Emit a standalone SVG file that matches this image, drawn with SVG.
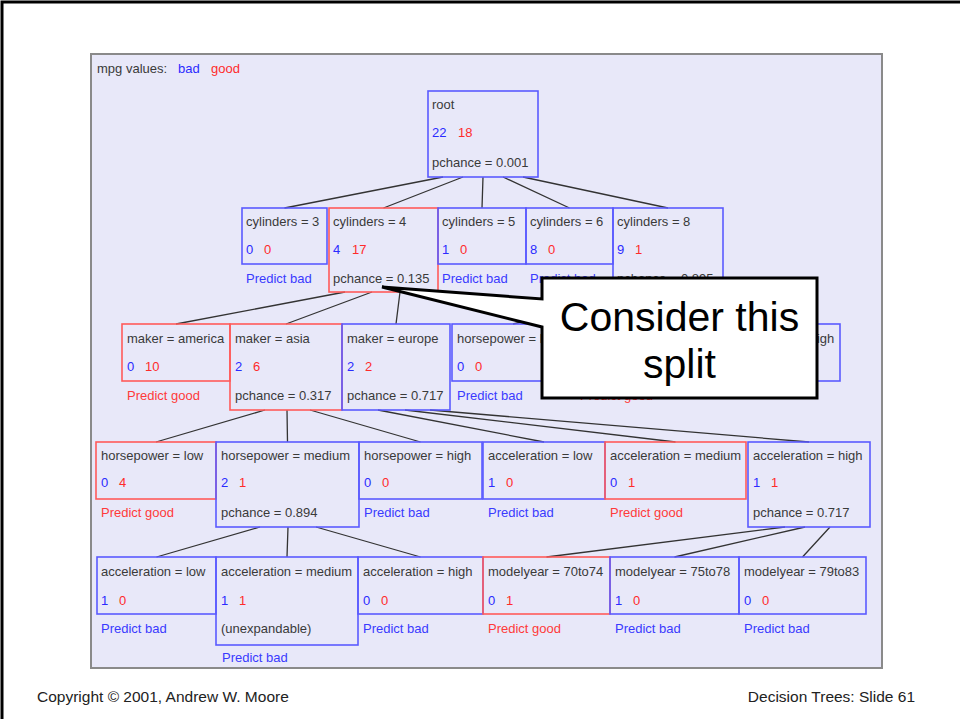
<svg xmlns="http://www.w3.org/2000/svg" width="960" height="719" viewBox="0 0 960 719">
<style>
text{font-family:"Liberation Sans",Arial,sans-serif;font-size:13px}
.t{fill:#3a3a3a}
.cb{fill:#2b2bff}
.cr{fill:#ff2b2b}
.pb{fill:#3a3aff}
.pg{fill:#ff3a3a}
.bb{fill:none;stroke:#5a5aff;stroke-width:1.6}
.br{fill:none;stroke:#ff5a5a;stroke-width:1.6}
.edge{stroke:#333;stroke-width:1.3;fill:none}
.foot{font-size:15.5px;fill:#222}
.call{font-size:41px;fill:#000}
</style>
<rect x="0" y="0" width="960" height="719" fill="#fff"/>
<path d="M2,719 V2 H960" fill="none" stroke="#000" stroke-width="3"/>
<rect id="panel" x="91" y="54" width="791" height="614" fill="#e8e8f9" stroke="#8a8a8a" stroke-width="2"/>
<g id="legend">
<text class="t" x="97" y="73">mpg values:</text>
<text class="cb" x="178" y="73">bad</text>
<text class="cr" x="211" y="73">good</text>
</g>
<g id="connectors">
<path class="edge" d="M443,177 L284.5,208 M463,177 L383.5,208 M483,177 L482,208 M503,177 L569.5,208 M523,177 L668,208"/>
<path class="edge" d="M345,292 L176,324 M372,292 L286,324 M400,292 L396,324"/>
<path class="edge" d="M645,292 L513,324 M668,292 L648,324 M690,292 L781,324"/>
<path class="edge" d="M265,410 L156,442 M287,410 L287.5,442 M310,410 L420.5,442"/>
<path class="edge" d="M378,410 L544,442 M405,410 L675.5,442 M430,410 L809,442"/>
<path class="edge" d="M260,527 L156.5,557 M288,527 L287,557 M316,527 L420.5,557"/>
<path class="edge" d="M785,527 L546.5,557 M805,527 L674.5,557 M830,527 L802.5,557"/>
</g>
<g id="root"><rect class="bb" x="428" y="91" width="110" height="86"/><text class="t" x="432" y="109">root</text><text class="cb" x="432" y="137">22</text><text class="cr" x="458" y="137">18</text><text class="t" x="432" y="167">pchance = 0.001</text></g>
<g id="cyl3"><rect class="bb" x="242" y="208" width="85" height="56"/><text class="t" x="246" y="226">cylinders = 3</text><text class="cb" x="246" y="254">0</text><text class="cr" x="264" y="254">0</text><text class="pb" x="246" y="283">Predict bad</text></g>
<g id="cyl4"><rect class="br" x="329" y="208" width="109" height="84"/><text class="t" x="333" y="226">cylinders = 4</text><text class="cb" x="333" y="254">4</text><text class="cr" x="352" y="254">17</text><text class="t" x="333" y="283">pchance = 0.135</text></g>
<g id="cyl5"><rect class="bb" x="438" y="208" width="88" height="56"/><text class="t" x="442" y="226">cylinders = 5</text><text class="cb" x="442" y="254">1</text><text class="cr" x="460" y="254">0</text><text class="pb" x="442" y="283">Predict bad</text></g>
<g id="cyl6"><rect class="bb" x="526" y="208" width="87" height="56"/><text class="t" x="530" y="226">cylinders = 6</text><text class="cb" x="530" y="254">8</text><text class="cr" x="548" y="254">0</text><text class="pb" x="530" y="283">Predict bad</text></g>
<g id="cyl8"><rect class="bb" x="613" y="208" width="110" height="84"/><text class="t" x="617" y="226">cylinders = 8</text><text class="cb" x="617" y="254">9</text><text class="cr" x="635" y="254">1</text><text class="t" x="617" y="283">pchance = 0.895</text></g>
<g id="maker-america"><rect class="br" x="122" y="324" width="108" height="57"/><text class="t" x="127" y="343">maker = america</text><text class="cb" x="127" y="371">0</text><text class="cr" x="145" y="371">10</text><text class="pg" x="127" y="400">Predict good</text></g>
<g id="maker-asia"><rect class="br" x="230" y="324" width="112" height="86"/><text class="t" x="235" y="343">maker = asia</text><text class="cb" x="235" y="371">2</text><text class="cr" x="253" y="371">6</text><text class="t" x="235" y="400">pchance = 0.317</text></g>
<g id="maker-europe"><rect class="bb" x="342" y="324" width="108" height="86"/><text class="t" x="347" y="343">maker = europe</text><text class="cb" x="347" y="371">2</text><text class="cr" x="365" y="371">2</text><text class="t" x="347" y="400">pchance = 0.717</text></g>
<g id="hp-low-8"><rect class="bb" x="452" y="324" width="123" height="57"/><text class="t" x="457" y="343">horsepower = low</text><text class="cb" x="457" y="371">0</text><text class="cr" x="475" y="371">0</text><text class="pb" x="457" y="400">Predict bad</text></g>
<g id="hp-med-8"><rect class="br" x="575" y="324" width="147" height="57"/><text class="pg" x="580" y="399.5">Predict good</text></g>
<g id="hp-high-8"><rect class="bb" x="722" y="324" width="118" height="57"/><text class="t" x="727" y="343">horsepower = high</text></g>
<g id="hp-low"><rect class="br" x="96" y="442" width="120" height="57"/><text class="t" x="101" y="460">horsepower = low</text><text class="cb" x="101" y="487">0</text><text class="cr" x="119" y="487">4</text><text class="pg" x="101" y="517">Predict good</text></g>
<g id="hp-medium"><rect class="bb" x="216" y="442" width="143" height="85"/><text class="t" x="221" y="460">horsepower = medium</text><text class="cb" x="221" y="487">2</text><text class="cr" x="239" y="487">1</text><text class="t" x="221" y="517">pchance = 0.894</text></g>
<g id="hp-high"><rect class="bb" x="359" y="442" width="123" height="57"/><text class="t" x="364" y="460">horsepower = high</text><text class="cb" x="364" y="487">0</text><text class="cr" x="382" y="487">0</text><text class="pb" x="364" y="517">Predict bad</text></g>
<g id="acc-low"><rect class="bb" x="483" y="442" width="122" height="57"/><text class="t" x="488" y="460">acceleration = low</text><text class="cb" x="488" y="487">1</text><text class="cr" x="506" y="487">0</text><text class="pb" x="488" y="517">Predict bad</text></g>
<g id="acc-medium"><rect class="br" x="605" y="442" width="141" height="57"/><text class="t" x="610" y="460">acceleration = medium</text><text class="cb" x="610" y="487">0</text><text class="cr" x="628" y="487">1</text><text class="pg" x="610" y="517">Predict good</text></g>
<g id="acc-high"><rect class="bb" x="748" y="442" width="122" height="85"/><text class="t" x="753" y="460">acceleration = high</text><text class="cb" x="753" y="487">1</text><text class="cr" x="771" y="487">1</text><text class="t" x="753" y="517">pchance = 0.717</text></g>
<g id="acc-low-2"><rect class="bb" x="97" y="557" width="119" height="57"/><text class="t" x="101" y="576">acceleration = low</text><text class="cb" x="101" y="605">1</text><text class="cr" x="119" y="605">0</text><text class="pb" x="101" y="633">Predict bad</text></g>
<g id="acc-medium-2"><rect class="bb" x="216" y="557" width="142" height="88"/><text class="t" x="221" y="576">acceleration = medium</text><text class="cb" x="221" y="605">1</text><text class="cr" x="239" y="605">1</text><text class="t" x="221" y="633">(unexpandable)</text><text class="pb" x="222" y="662">Predict bad</text></g>
<g id="acc-high-2"><rect class="bb" x="358" y="557" width="125" height="57"/><text class="t" x="363" y="576">acceleration = high</text><text class="cb" x="363" y="605">0</text><text class="cr" x="381" y="605">0</text><text class="pb" x="363" y="633">Predict bad</text></g>
<g id="my-70to74"><rect class="br" x="483" y="557" width="127" height="57"/><text class="t" x="488" y="576">modelyear = 70to74</text><text class="cb" x="488" y="605">0</text><text class="cr" x="506" y="605">1</text><text class="pg" x="488" y="633">Predict good</text></g>
<g id="my-75to78"><rect class="bb" x="610" y="557" width="129" height="57"/><text class="t" x="615" y="576">modelyear = 75to78</text><text class="cb" x="615" y="605">1</text><text class="cr" x="633" y="605">0</text><text class="pb" x="615" y="633">Predict bad</text></g>
<g id="my-79to83"><rect class="bb" x="739" y="557" width="127" height="57"/><text class="t" x="744" y="576">modelyear = 79to83</text><text class="cb" x="744" y="605">0</text><text class="cr" x="762" y="605">0</text><text class="pb" x="744" y="633">Predict bad</text></g>
<g id="callout">
<path d="M542,278 H817 V398 H542 V327 L382,287 L542,299 Z" fill="#fff" stroke="#000" stroke-width="3" stroke-linejoin="miter"/>
<text class="call" x="679.5" y="331" text-anchor="middle">Consider this</text>
<text class="call" x="679.5" y="378" text-anchor="middle">split</text>
</g>
<g id="footer">
<text class="foot" x="37" y="702">Copyright © 2001, Andrew W. Moore</text>
<text class="foot" x="915" y="702" text-anchor="end">Decision Trees: Slide 61</text>
</g>
</svg>
